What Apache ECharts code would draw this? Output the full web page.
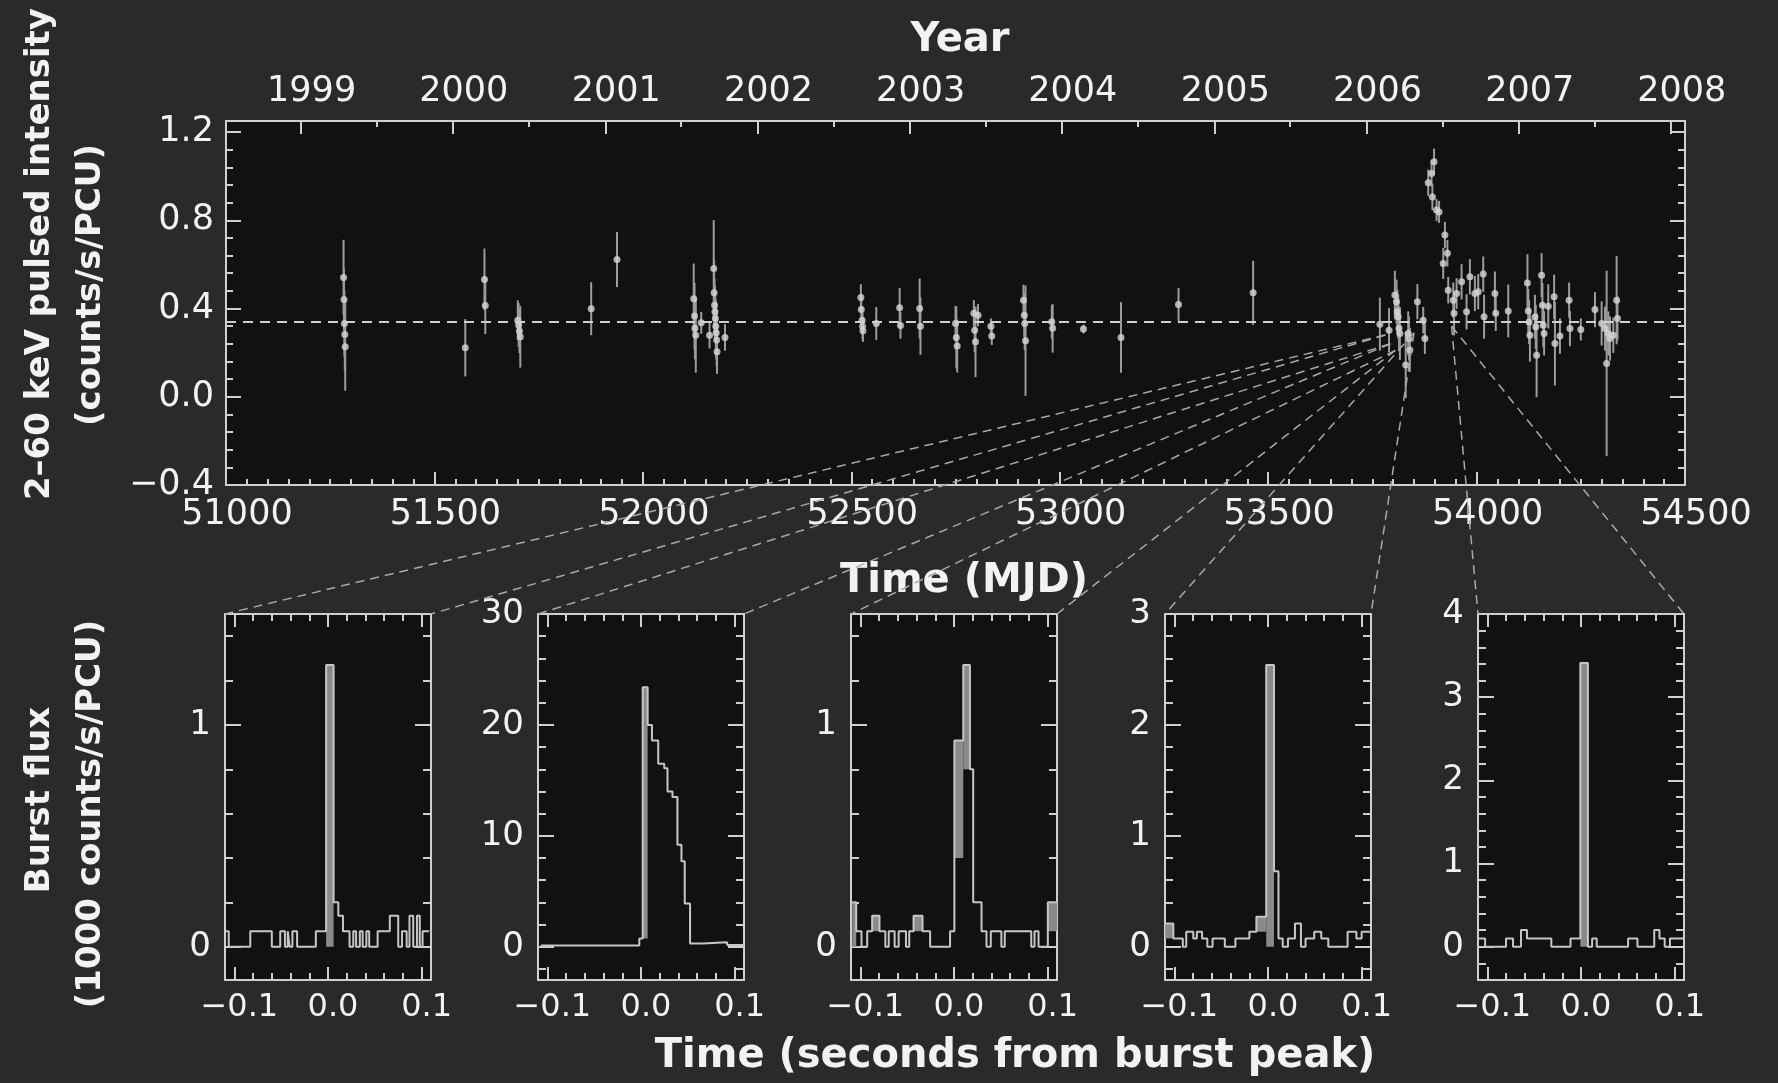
<!DOCTYPE html>
<html>
<head>
<meta charset="utf-8">
<title>Pulsed intensity and bursts</title>
<script src="https://cdn.jsdelivr.net/npm/echarts@6/dist/echarts.min.js"></script>
<style>
  html, body { margin: 0; padding: 0; background: #2a2a2a; }
  #chart { width: 1778px; height: 1083px; }
</style>
</head>
<body>
<div id="chart"></div>
<script>
// ---- top panel: pulsed intensity (MJD, counts/s/PCU, 1-sigma error) ----
const mjd = [51282, 51283, 51284, 51285, 51286, 51574, 51620, 51622, 51700, 51702, 51704, 51706,
  51876, 51938, 52122, 52124, 52125, 52127, 52140, 52160, 52170, 52171, 52172, 52173, 52174, 52175,
  52176, 52177, 52178, 52197, 52523, 52524, 52526, 52527, 52528, 52560, 52616, 52618, 52664, 52666,
  52750, 52752, 52754, 52794, 52796, 52798, 52804, 52835, 52837, 52913, 52915, 52916, 52918, 52981,
  52983, 53057, 53147, 53285, 53464, 53768, 53790, 53804, 53808, 53810, 53812, 53814, 53816, 53830,
  53836, 53838, 53840, 53858, 53872, 53876, 53884, 53892, 53894, 53898, 53904, 53910, 53920, 53924,
  53930, 53932, 53944, 53946, 53952, 53964, 53976, 53984, 53996, 54004, 54016, 54018, 54044, 54046,
  54076, 54122, 54124, 54126, 54128, 54140, 54142, 54144, 54156, 54158, 54160, 54162, 54172, 54186,
  54188, 54200, 54222, 54224, 54250, 54284, 54300, 54308, 54312, 54316, 54320, 54328, 54336, 54338];
const flux = [0.541, 0.441, 0.332, 0.282, 0.227, 0.222, 0.532, 0.414, 0.347, 0.325, 0.298, 0.272,
  0.399, 0.622, 0.444, 0.366, 0.310, 0.279, 0.335, 0.279, 0.581, 0.471, 0.415, 0.385, 0.355, 0.320,
  0.290, 0.257, 0.204, 0.269, 0.450, 0.396, 0.347, 0.320, 0.299, 0.332, 0.403, 0.323, 0.400, 0.320,
  0.332, 0.269, 0.230, 0.378, 0.302, 0.249, 0.370, 0.320, 0.275, 0.438, 0.370, 0.332, 0.254, 0.340,
  0.310, 0.307, 0.269, 0.418, 0.471, 0.329, 0.302, 0.461, 0.431, 0.385, 0.363, 0.310, 0.287, 0.144,
  0.287, 0.264, 0.212, 0.431, 0.347, 0.264, 0.970, 1.012, 0.906, 1.065, 0.846, 0.838, 0.604, 0.733,
  0.650, 0.483, 0.438, 0.378, 0.468, 0.521, 0.385, 0.544, 0.468, 0.476, 0.556, 0.363, 0.468, 0.378,
  0.389, 0.516, 0.389, 0.339, 0.279, 0.362, 0.317, 0.188, 0.551, 0.415, 0.324, 0.287, 0.410, 0.453,
  0.241, 0.275, 0.438, 0.309, 0.305, 0.395, 0.332, 0.309, 0.151, 0.287, 0.264, 0.279, 0.438, 0.355];
const fluxErr = [0.17, 0.14, 0.15, 0.16, 0.20, 0.13, 0.14, 0.13, 0.09, 0.10, 0.10, 0.14,
  0.12, 0.125, 0.16, 0.15, 0.14, 0.17, 0.05, 0.06, 0.22, 0.15, 0.12, 0.12, 0.10, 0.12,
  0.12, 0.12, 0.10, 0.06, 0.06, 0.07, 0.06, 0.06, 0.05, 0.075, 0.09, 0.06, 0.136, 0.13,
  0.08, 0.14, 0.12, 0.06, 0.10, 0.16, 0.05, 0.035, 0.04, 0.07, 0.10, 0.12, 0.25, 0.075,
  0.11, 0.02, 0.16, 0.075, 0.145, 0.12, 0.10, 0.11, 0.10, 0.10, 0.10, 0.10, 0.12, 0.15,
  0.10, 0.10, 0.10, 0.08, 0.06, 0.07, 0.06, 0.06, 0.06, 0.06, 0.05, 0.05, 0.07, 0.06,
  0.06, 0.06, 0.08, 0.10, 0.07, 0.08, 0.08, 0.08, 0.08, 0.08, 0.08, 0.10, 0.10, 0.08,
  0.12, 0.13, 0.10, 0.10, 0.12, 0.10, 0.10, 0.19, 0.10, 0.10, 0.10, 0.10, 0.10, 0.10,
  0.19, 0.08, 0.08, 0.08, 0.05, 0.08, 0.10, 0.10, 0.42, 0.10, 0.10, 0.08, 0.20, 0.10];
const baseline = 0.335;

// axis ticks / labels of the top panel
const mjdTicks = [51000, 51500, 52000, 52500, 53000, 53500, 54000, 54500];
const fluxTicks = [-0.4, 0.0, 0.4, 0.8, 1.2];
const yearLabels = ['1999', '2000', '2001', '2002', '2003', '2004', '2005', '2006', '2007', '2008'];
const yearMJD = [51179, 51544, 51910, 52275, 52640, 53005, 53371, 53736, 54101, 54466];
const halfYearMJD = [51361, 51727, 52092, 52457, 52822, 53188, 53553, 53918, 54283];

// where each burst sits on the light curve (origin of the connector lines)
const burstMJD = [53781, 53793, 53805, 53850, 53940];
const burstFlux = [0.28, 0.24, 0.21, 0.29, 0.32];

// ---- burst profiles: step edges (s), levels (1000 counts/s/PCU), shaded bins ----
const p1T = [-0.109, -0.106, -0.083, -0.060, -0.051, -0.046, -0.043, -0.041, -0.038, -0.033, -0.013,
  -0.002, 0.006, 0.011, 0.016, 0.023, 0.027, 0.030, 0.034, 0.037, 0.041, 0.044, 0.053, 0.066, 0.075,
  0.079, 0.084, 0.087, 0.091, 0.095, 0.098, 0.101, 0.108];
const p1V = [0.07, 0, 0.07, 0, 0.07, 0, 0.07, 0, 0.07, 0, 0.07, 1.27, 0.2, 0.14, 0.07, 0, 0.07, 0,
  0.07, 0, 0.07, 0, 0.07, 0.14, 0, 0.07, 0, 0.14, 0, 0.14, 0, 0.07];
const p1Fill = [[-0.002, 0.006, 0, 1.27]];

const p2T = [-0.107, -0.0018, 0.0018, 0.0071, 0.0117, 0.0184, 0.0248, 0.0283, 0.0336, 0.0389,
  0.0432, 0.0467, 0.0524, 0.0655, 0.0920, 0.1104];
const p2V = [0.1, 0.75, 23.4, 20.0, 18.6, 16.5, 16.1, 14.0, 13.5, 9.2, 7.7, 3.9, 0.3, 0.4, 0.15];
const p2Fill = [[0.0018, 0.0071, 0.75, 23.4]];

const p3T = [-0.1087, -0.1044, -0.0988, -0.0927, -0.0874, -0.0796, -0.0733, -0.0697, -0.0634,
  -0.0591, -0.0513, -0.0478, -0.0432, -0.0336, -0.0255, -0.0042, 0.0004, 0.0099, 0.0170, 0.0205,
  0.0294, 0.0347, 0.0393, 0.0506, 0.0542, 0.0825, 0.0860, 0.0903, 0.1002, 0.1101];
const p3V = [0.2, 0.07, 0, 0.07, 0.14, 0.07, 0, 0.07, 0, 0.07, 0, 0.07, 0.14, 0.07, 0, 0.07, 0.93,
  1.27, 0.8, 0.2, 0.07, 0, 0.07, 0, 0.07, 0, 0.07, 0, 0.2];
const p3Fill = [[0.0004, 0.0099, 0.4, 0.93], [0.0099, 0.0170, 0.8, 1.27], [-0.1087, -0.1044, 0, 0.2],
  [-0.0874, -0.0796, 0.07, 0.14], [-0.0432, -0.0336, 0.07, 0.14], [0.1002, 0.1101, 0.07, 0.2]];

const p4T = [-0.1097, -0.1011, -0.0910, -0.0873, -0.0798, -0.0760, -0.0704, -0.0648, -0.0592,
  -0.0461, -0.0348, -0.0199, -0.0124, -0.0019, 0.0064, 0.0112, 0.0157, 0.0213, 0.0288, 0.0352,
  0.0401, 0.0494, 0.0569, 0.0644, 0.0850, 0.0944, 0.1000, 0.1101];
const p4V = [0.21, 0.075, 0, 0.135, 0.075, 0.135, 0.075, 0, 0.075, 0, 0.075, 0.135, 0.27, 2.54, 0.68,
  0.075, 0, 0.075, 0.21, 0, 0.075, 0.135, 0.075, 0, 0.135, 0.075, 0.135];
const p4Fill = [[-0.0019, 0.0064, 0, 2.54], [-0.0124, -0.0019, 0.135, 0.27], [-0.1097, -0.1011, 0.075, 0.21]];

const p5T = [-0.1099, -0.1024, -0.0801, -0.0726, -0.0641, -0.0577, -0.0317, -0.0112, -0.0007, 0.0074,
  0.0119, 0.0168, 0.0503, 0.0603, 0.0782, 0.0838, 0.0894, 0.0950, 0.1099];
const p5V = [0.1, 0, 0.1, 0, 0.2, 0.1, 0, 0.1, 3.41, 0, 0.1, 0, 0.1, 0, 0.2, 0.1, 0, 0.1];
const p5Fill = [[-0.0007, 0.0074, 0, 3.41]];

const panelT = [p1T, p2T, p3T, p4T, p5T];
const panelV = [p1V, p2V, p3V, p4V, p5V];
const panelFill = [p1Fill, p2Fill, p3Fill, p4Fill, p5Fill];
const panelYMin = [-0.15, -3, -0.15, -0.3, -0.4];
const panelYMax = [1.5, 30, 1.5, 3, 4];
const panelYLabels = [[0, 1], [0, 10, 20, 30], [0, 1], [0, 1, 2, 3], [0, 1, 2, 3, 4]];
const panelYMinor = [0.2, 2, 0.2, 0.2, 0.2];
const timeLabels = [-0.1, 0.0, 0.1];

// ---- styling / layout ----
const AX = '#cfcfcf';
const TXT = '#f2f2f2';
const FONT = 'DejaVu Sans';
const panelLeft = [225, 538, 851, 1165, 1478];

function ticks(min, max, step) {
  const out = [];
  const k0 = Math.ceil(min / step - 1e-9), k1 = Math.floor(max / step + 1e-9);
  for (let k = k0; k <= k1; k++) out.push(+(k * step).toFixed(6));
  return out;
}
const signed = (v) => (v < 0 ? '\u2212' : '') + Math.abs(v).toFixed(1);

// a major tick axis (optionally labelled) plus a minor tick axis on the same side
function axisPair(list, base, pos, major, minor, majLen, minLen, label) {
  const mk = (vals, len, lab) => Object.assign({}, base, {
    position: pos,
    axisLine: { show: false, onZero: false },
    splitLine: { show: false },
    axisTick: { show: true, inside: true, length: len, customValues: vals, lineStyle: { color: AX, width: 2 } },
    axisLabel: lab || { show: false }
  });
  list.push(mk(major, majLen, label));
  const idx = list.length - 1;
  list.push(mk(minor, minLen, null));
  return idx;
}

const grids = [{ left: 226, top: 121, width: 1459, height: 364 }];
panelLeft.forEach(l => grids.push({ left: l, top: 614, width: 206, height: 366 }));
grids.forEach(g => Object.assign(g, { show: true, backgroundColor: '#111111', borderColor: AX, borderWidth: 2 }));

const xAxes = [], yAxes = [];
const lab = (size, extra) => Object.assign({ show: true, color: TXT, fontFamily: FONT, fontSize: size }, extra);

const topBase = { type: 'value', gridIndex: 0, min: 51000, max: 54500 };
const topX = axisPair(xAxes, topBase, 'bottom', mjdTicks, ticks(51000, 54500, 50), 13, 6,
  lab(35, { customValues: mjdTicks, margin: 12, padding: [0, 0, 0, 22], formatter: v => String(v) }));
axisPair(xAxes, topBase, 'top', yearMJD, halfYearMJD, 13, 6,
  lab(35, { customValues: yearMJD, margin: 12, padding: [0, 0, 0, 22],
    formatter: v => yearLabels[yearMJD.indexOf(v)] }));
const fBase = { type: 'value', gridIndex: 0, min: -0.4, max: 1.25 };
const topY = axisPair(yAxes, fBase, 'left', fluxTicks, ticks(-0.4, 1.25, 0.08), 15, 7,
  lab(35, { customValues: fluxTicks, margin: 12, formatter: signed }));
axisPair(yAxes, fBase, 'right', fluxTicks, ticks(-0.4, 1.25, 0.08), 15, 7, null);

const series = [
  {
    type: 'custom', xAxisIndex: topX, yAxisIndex: topY, z: 2,
    data: mjd.map((m, i) => [m, flux[i] - fluxErr[i], flux[i] + fluxErr[i]]),
    encode: { x: 0, y: [1, 2] },
    renderItem: (params, api) => {
      const lo = api.coord([api.value(0), api.value(1)]);
      const hi = api.coord([api.value(0), api.value(2)]);
      return { type: 'line', shape: { x1: lo[0], y1: lo[1], x2: hi[0], y2: hi[1] },
        style: { stroke: '#9c9c9c', lineWidth: 2 } };
    }
  },
  {
    type: 'scatter', xAxisIndex: topX, yAxisIndex: topY, z: 3,
    data: mjd.map((m, i) => [m, flux[i]]),
    symbolSize: 7, itemStyle: { color: '#d6d6d6' },
    markLine: {
      silent: true, symbol: 'none', label: { show: false },
      lineStyle: { color: '#d0d0d0', width: 2, type: [10, 7] },
      data: [{ yAxis: baseline }]
    }
  }
];
const scatterIndex = 1;
const panelSeries = [];

panelLeft.forEach((l, i) => {
  const g = i + 1;
  const xb = { type: 'value', gridIndex: g, min: -0.11, max: 0.11 };
  const xMinor = ticks(-0.11, 0.11, 0.02);
  const xi = axisPair(xAxes, xb, 'bottom', timeLabels, xMinor, 13, 7,
    lab(32, { customValues: timeLabels, margin: 12, padding: [0, 0, 0, 10], formatter: signed }));
  axisPair(xAxes, xb, 'top', timeLabels, xMinor, 13, 7, null);
  const yb = { type: 'value', gridIndex: g, min: panelYMin[i], max: panelYMax[i] };
  const yMinor = ticks(panelYMin[i], panelYMax[i], panelYMinor[i]);
  const yi = axisPair(yAxes, yb, 'left', panelYLabels[i], yMinor, 16, 8,
    lab(34, { customValues: panelYLabels[i], margin: 14 }));
  axisPair(yAxes, yb, 'right', panelYLabels[i], yMinor, 16, 8, null);

  series.push({
    type: 'custom', xAxisIndex: xi, yAxisIndex: yi, z: 2,
    data: panelFill[i],
    encode: { x: [0, 1], y: [2, 3] },
    renderItem: (params, api) => {
      const a = api.coord([api.value(0), api.value(3)]);
      const b = api.coord([api.value(1), api.value(2)]);
      return { type: 'rect', shape: { x: a[0], y: a[1], width: b[0] - a[0], height: b[1] - a[1] },
        style: { fill: '#8a8a8a' } };
    }
  });
  const T = panelT[i], V = panelV[i];
  const pts = V.map((v, k) => [T[k], v]);
  pts.push([T[T.length - 1], V[V.length - 1]]);
  series.push({
    type: 'line', xAxisIndex: xi, yAxisIndex: yi, z: 3, step: 'end', symbol: 'none',
    data: pts, lineStyle: { color: '#c6c6c6', width: 2 }
  });
  panelSeries.push(series.length - 1);
});

const option = {
  backgroundColor: '#2a2a2a',
  animation: false,
  grid: grids,
  xAxis: xAxes,
  yAxis: yAxes,
  series: series
};

const chart = echarts.init(document.getElementById('chart'));
chart.setOption(option);

// titles and the dashed connectors from each burst to its profile panel
const bold = (s) => 'bold ' + s + 'px "' + FONT + '"';
const text = (t, x, y, size, rot) => ({
  type: 'text', x: x, y: y, rotation: rot || 0, silent: true,
  style: { text: t, font: bold(size), fill: TXT, align: 'center', verticalAlign: 'middle' }
});
const graphics = [
  text('Year', 960, 41, 40),
  text('Time (MJD)', 964, 582, 40),
  text('Time (seconds from burst peak)', 1015, 1057, 40),
  text('2\u201360 keV pulsed intensity', 40, 254, 34, Math.PI / 2),
  text('(counts/s/PCU)', 91, 285, 34, Math.PI / 2),
  text('Burst flux', 40, 800, 34, Math.PI / 2),
  text('(1000 counts/s/PCU)', 91, 814, 34, Math.PI / 2)
];
burstMJD.forEach((m, i) => {
  const p = chart.convertToPixel({ seriesIndex: scatterIndex }, [m, burstFlux[i]]);
  const s = panelSeries[i];
  const tl = chart.convertToPixel({ seriesIndex: s }, [-0.11, panelYMax[i]]);
  const tr = chart.convertToPixel({ seriesIndex: s }, [0.11, panelYMax[i]]);
  [tl, tr].forEach(c => graphics.push({
    type: 'line', silent: true, z: 50,
    shape: { x1: p[0], y1: p[1], x2: c[0], y2: c[1] },
    style: { stroke: '#a8a8a8', lineWidth: 1.5, lineDash: [9, 6] }
  }));
});
chart.setOption({ graphic: graphics });

window.addEventListener('resize', () => chart.resize());
</script>
</body>
</html>
